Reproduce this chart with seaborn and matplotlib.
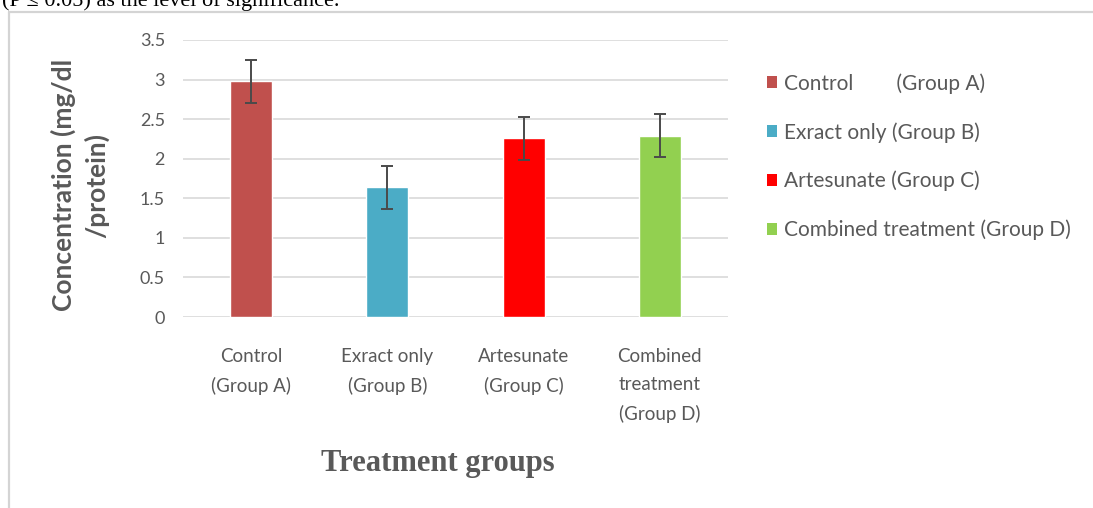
import matplotlib
matplotlib.use("Agg")
import matplotlib.pyplot as plt
from matplotlib.lines import Line2D
from matplotlib.patches import Patch
import seaborn as sns
import pandas as pd

# Data
groups = ["Control\n(Group A)", "Exract only\n(Group B)", "Artesunate\n(Group C)",
          "Combined\ntreatment\n(Group D)"]
legend_labels = ["Control        (Group A)", "Exract only (Group B)",
                 "Artesunate (Group C)", "Combined treatment (Group D)"]
concentration = [2.98, 1.64, 2.26, 2.29]
error = [0.27, 0.27, 0.27, 0.27]
colors = ["#C0504D", "#4BACC6", "#FF0000", "#92D050"]
y_ticks = [0, 0.5, 1, 1.5, 2, 2.5, 3, 3.5]
y_tick_labels = ["0", "0.5", "1", "1.5", "2", "2.5", "3", "3.5"]

df = pd.DataFrame({"group": groups, "value": concentration, "err": error})

sns.set_theme(style="white")
plt.rcParams["font.family"] = ["Lato", "DejaVu Sans"]

W, H = 1093, 508
fig = plt.figure(figsize=(W / 100, H / 100), dpi=100)
ax = fig.add_axes([183 / W, 1 - 317 / H, 545 / W, 277 / H])

sns.barplot(data=df, x="group", y="value", hue="group", palette=colors,
            width=0.31, dodge=False, legend=False, errorbar=None, ax=ax,
            saturation=1, zorder=2)
ax.errorbar(range(len(groups)), df["value"], yerr=df["err"], fmt="none",
            ecolor="#4a4a4a", elinewidth=1.4, capsize=4, capthick=1.4, zorder=3)

grey = "#595959"
ax.set_ylim(0, 3.5)
ax.set_xlim(-0.5, 3.5)
ax.set_yticks(y_ticks)
ax.set_yticklabels(y_tick_labels, color=grey, fontsize=13)
ax.set_xticks(range(len(groups)))
ax.set_xticklabels(groups, color=grey, fontsize=13.5, linespacing=1.8)
ax.tick_params(axis="x", length=0, pad=22)
ax.tick_params(axis="y", length=0, pad=13)
ax.yaxis.grid(True, color="#D9D9D9", linewidth=1.2, zorder=0)
ax.set_axisbelow(True)
for s in ax.spines.values():
    s.set_visible(False)
ax.set_xlabel("")
ax.set_ylabel("")

# Axis titles
fig.text(80 / W, 1 - 185 / H, "Concentration (mg/dl\n/protein)", rotation=90,
         ha="center", va="center", multialignment="center", fontsize=19,
         fontweight="bold", color=grey, linespacing=1.35)
fig.text(438 / W, 1 - 464 / H, "Treatment groups", ha="center", va="center",
         fontsize=22, fontweight="bold", color=grey,
         family=["Liberation Serif", "DejaVu Serif"])

# Legend
handles = [Patch(facecolor=c, edgecolor="none") for c in colors]
fig.legend(handles, legend_labels, loc="upper left",
           bbox_to_anchor=(767 / W, 1 - 73 / H), frameon=False,
           fontsize=15, labelcolor=grey, handlelength=0.5, handleheight=0.5,
           handletextpad=0.3, labelspacing=1.36, borderpad=0, borderaxespad=0)

# Document frame and the caption line above the chart
fig.add_artist(Line2D([9 / W, 1], [1 - 12 / H, 1 - 12 / H], color="#d4d4d4",
                      linewidth=1.6, transform=fig.transFigure))
fig.add_artist(Line2D([9 / W, 9 / W], [1 - 12 / H, 0], color="#d4d4d4",
                      linewidth=1.6, transform=fig.transFigure))
fig.text(2 / W, 1 - 6 / H, "(P \u2264 0.05) as the level of significance.",
         ha="left", va="baseline", fontsize=16, color="black",
         family=["Liberation Serif", "DejaVu Serif"])

fig.savefig("out.png", dpi=100)
